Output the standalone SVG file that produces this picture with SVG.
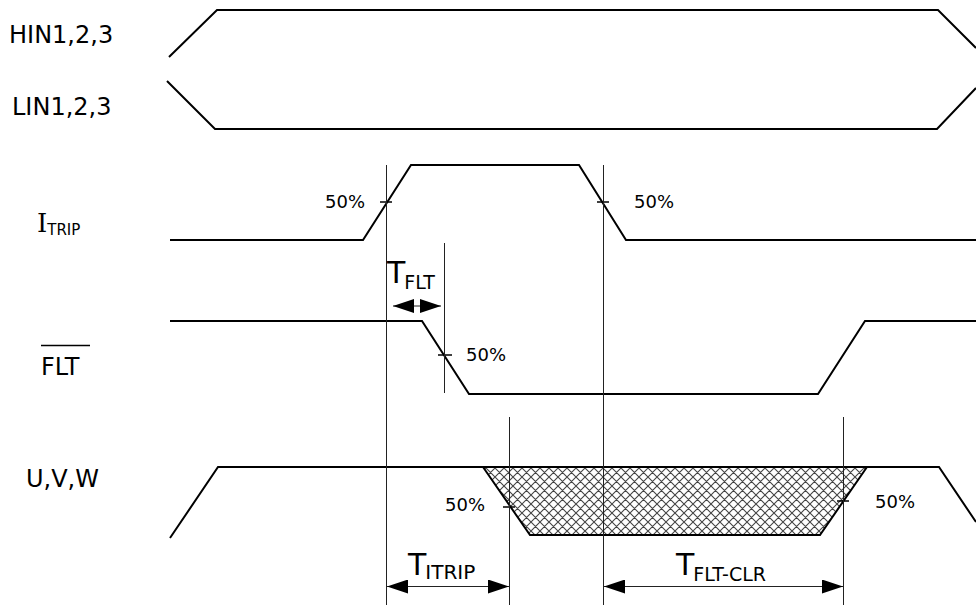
<svg xmlns="http://www.w3.org/2000/svg" width="976" height="609" viewBox="0 0 976 609">
<style>
text{font-family:"DejaVu Sans","Liberation Sans",sans-serif;fill:#000}
.lbl{font-size:24px}
.pct{font-size:18px}
.wave{fill:none;stroke:#000;stroke-width:2;stroke-linejoin:miter}
.guide{stroke:#222;stroke-width:1;fill:none}
.tick{stroke:#000;stroke-width:1.5}
.dim{stroke:#222;stroke-width:1;fill:none;marker-start:url(#ah);marker-end:url(#ah)}
.big{font-size:30px}
</style>
<defs>
<marker id="ah" markerUnits="userSpaceOnUse" markerWidth="21" markerHeight="14" viewBox="0 0 21 14" refX="21" refY="7" orient="auto-start-reverse">
<path d="M0,0 L21,7 L0,14 z" fill="#000"/>
</marker>
<pattern id="hatch" patternUnits="userSpaceOnUse" width="9" height="9">
<path d="M0,0 L9,9 M9,0 L0,9 M-1,8 L1,10 M8,-1 L10,1 M-1,1 L1,-1 M8,10 L10,8" stroke="#444" stroke-width="1.1"/>
</pattern>
</defs>
<rect width="976" height="609" fill="#fff"/>

<g id="hin">
<text class="lbl" x="9" y="43">HIN1,2,3</text>
<polyline class="wave" points="169,57 217,10 938,10 976,48"/>
</g>
<g id="lin">
<text class="lbl" x="12" y="115">LIN1,2,3</text>
<polyline class="wave" points="167,81 215,129 937,129 976,88"/>
</g>
<g id="itrip">
<text x="37" y="232" style="font-size:26px"><tspan style="font-family:'DejaVu Serif',serif">I</tspan><tspan style="font-size:15px" dy="3">TRIP</tspan></text>
<polyline class="wave" points="170,240 363,240 411,165 579,165 626,240 976,240"/>
<line class="tick" x1="380" y1="202" x2="392" y2="202"/>
<line class="tick" x1="597" y1="202" x2="609" y2="202"/>
<text class="pct" x="325" y="208">50%</text>
<text class="pct" x="634" y="208">50%</text>
</g>
<g id="flt">
<text class="lbl" x="41" y="375">FLT</text>
<line x1="41" y1="345.5" x2="90" y2="345.5" stroke="#000" stroke-width="1.5"/>
<polyline class="wave" points="170,321 422,321 469,394 818,394 865,321 976,321"/>
<line class="tick" x1="438" y1="355" x2="452" y2="355"/>
<text class="pct" x="466" y="361">50%</text>
</g>
<g id="uvw">
<text class="lbl" x="26" y="487">U,V,W</text>
<polygon points="483,467 530,535 820,535 867,467" fill="url(#hatch)" stroke="none"/>
<polyline class="wave" points="483,467 530,535 820,535 867,467"/>
<polyline class="wave" points="170,538 218,467 939,467 976,522"/>
<line class="tick" x1="503" y1="507" x2="515" y2="507"/>
<line class="tick" x1="837" y1="501" x2="849" y2="501"/>
<text class="pct" x="445" y="511">50%</text>
<text class="pct" x="875" y="508">50%</text>
</g>

<g id="connectors">
<line class="guide" x1="386.5" y1="165" x2="386.5" y2="605"/>
<line class="guide" x1="603.5" y1="165" x2="603.5" y2="605"/>
<line class="guide" x1="444.5" y1="243" x2="444.5" y2="393"/>
<line class="guide" x1="509.5" y1="417" x2="509.5" y2="605"/>
<line class="guide" x1="843.5" y1="417" x2="843.5" y2="605"/>
<line class="dim" x1="393" y1="306" x2="441" y2="306"/>
<line class="dim" x1="387" y1="586.5" x2="509" y2="586.5"/>
<line class="dim" x1="604" y1="586.5" x2="843" y2="586.5"/>
</g>
<g id="t-flt">
<text class="big" x="387" y="283">T<tspan style="font-size:19px" dy="6" dx="-1">FLT</tspan></text>
</g>
<g id="t-itrip">
<text class="big" x="408" y="575">T<tspan style="font-size:20px" dy="4" dx="-1">ITRIP</tspan></text>
</g>
<g id="t-flt-clr">
<text class="big" x="676" y="575">T<tspan style="font-size:19px" dy="6" dx="-1">FLT-CLR</tspan></text>
</g>
</svg>
